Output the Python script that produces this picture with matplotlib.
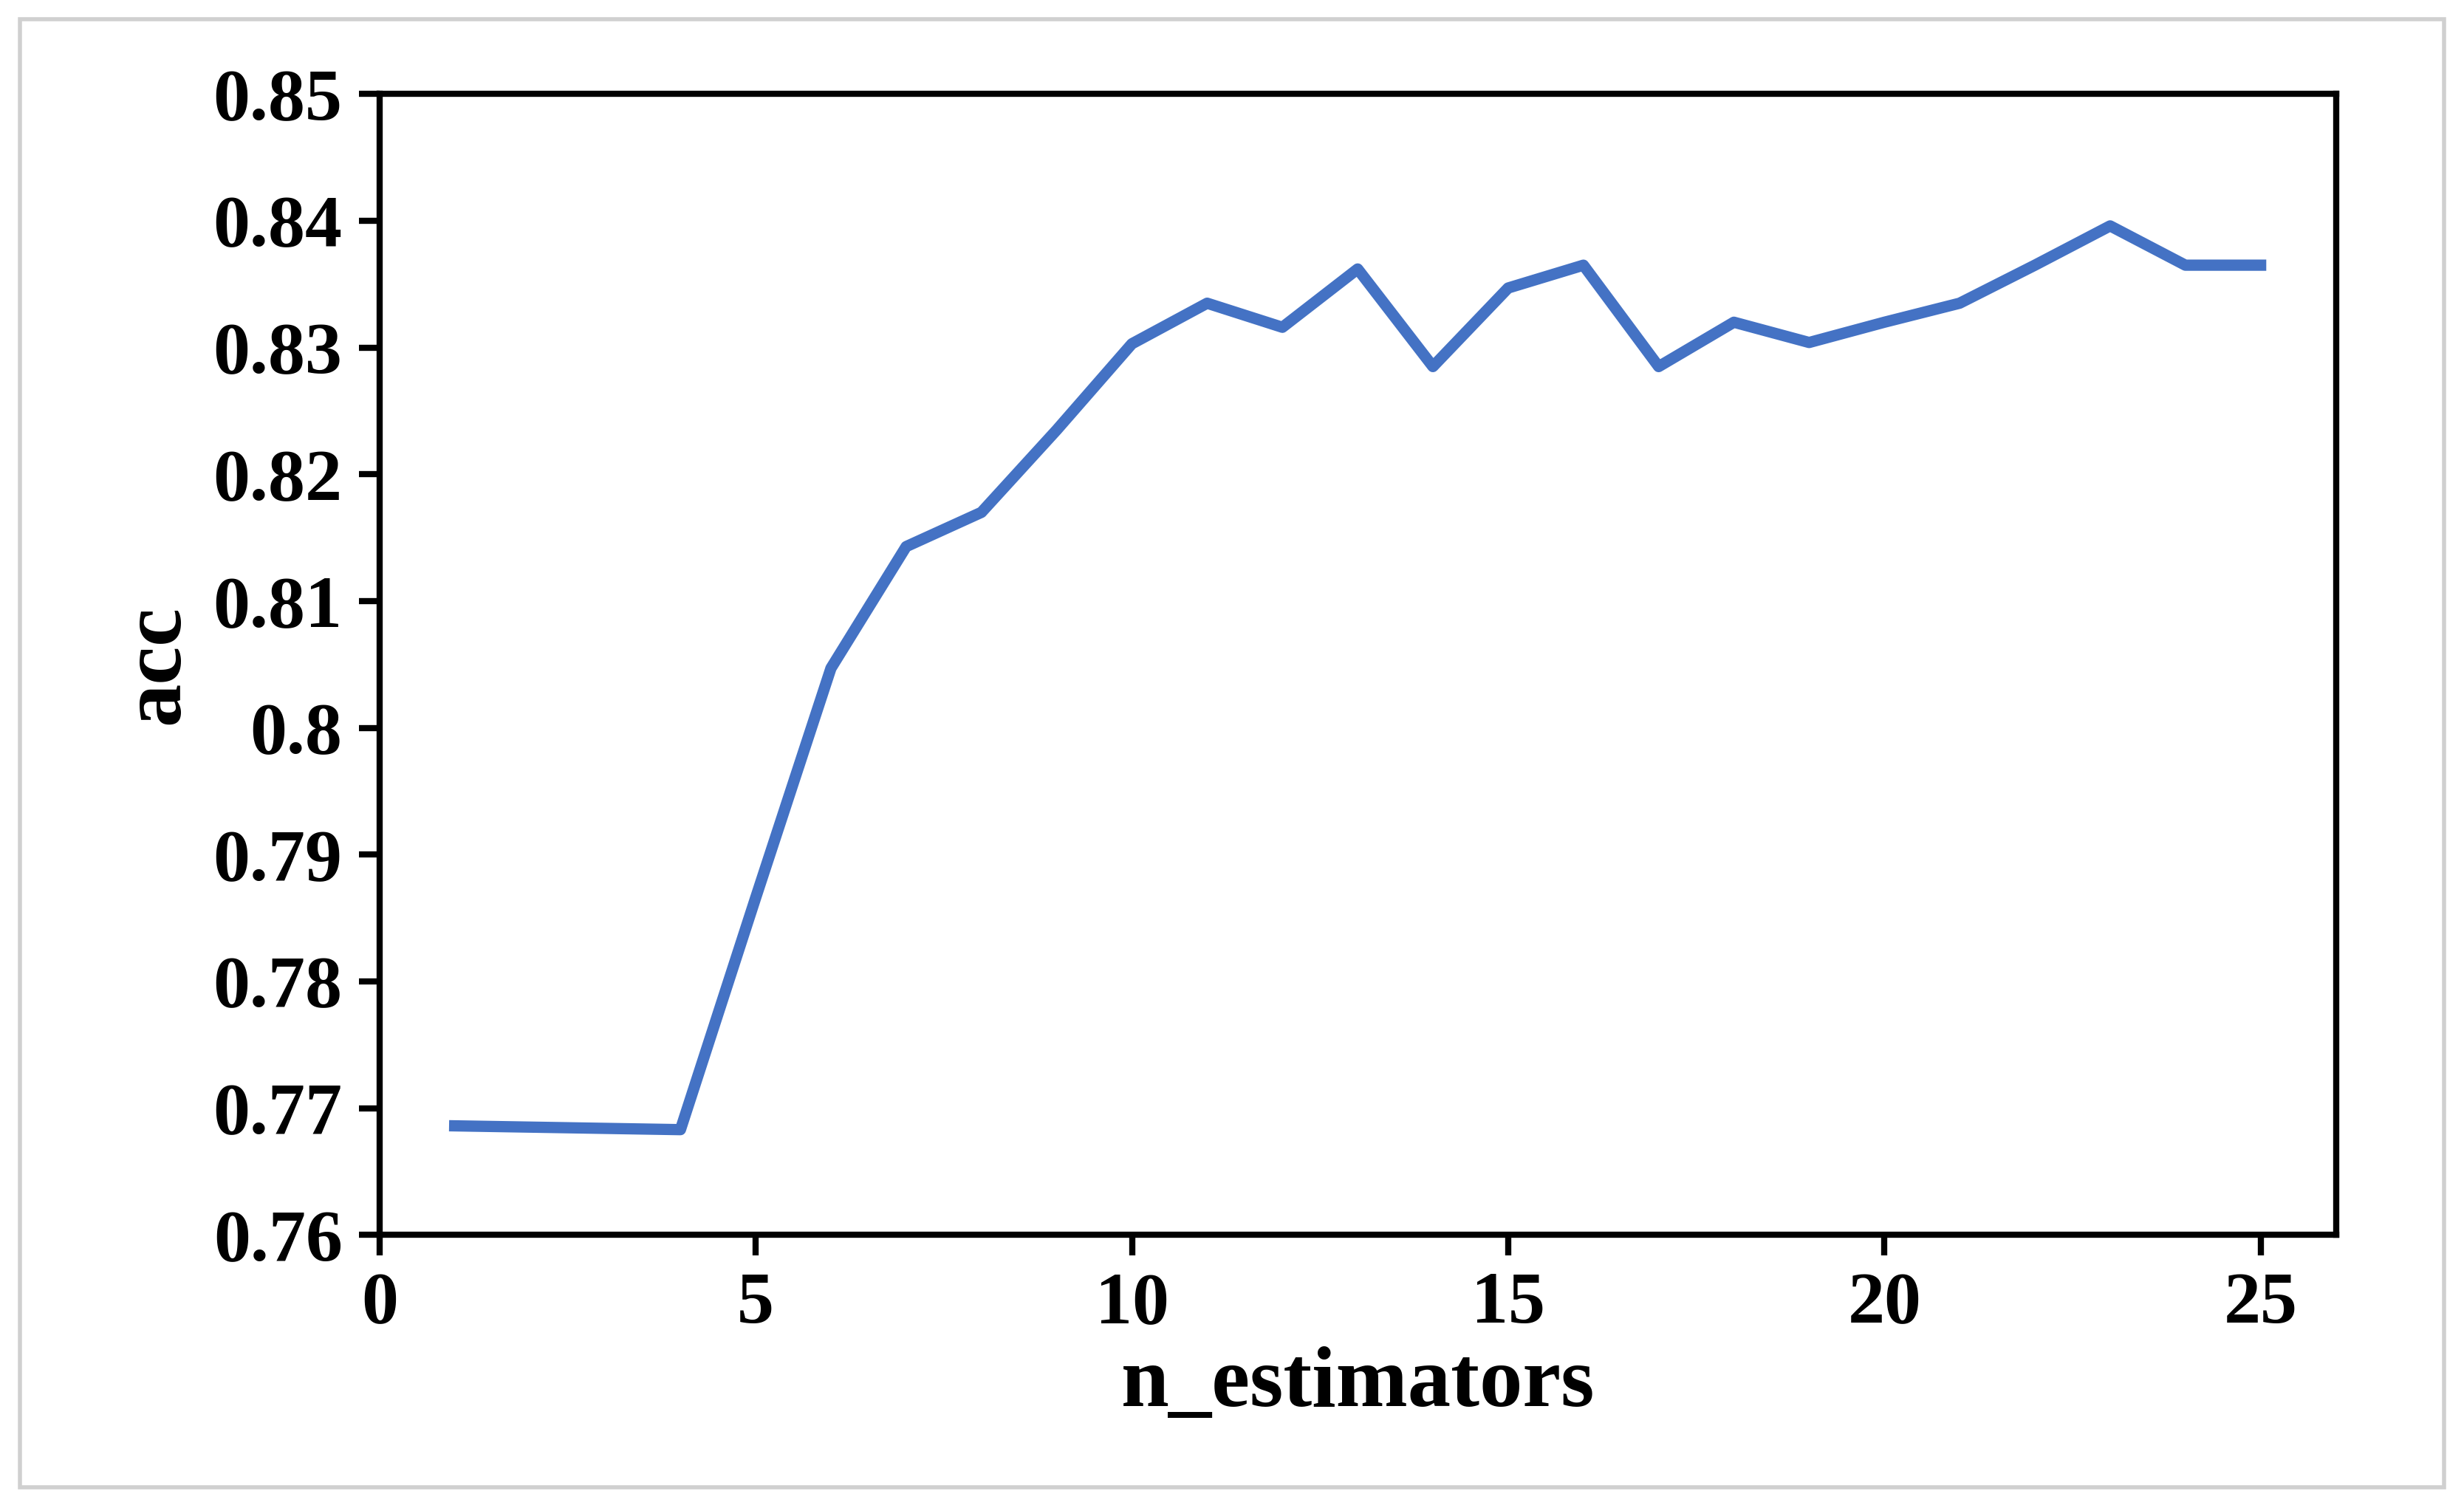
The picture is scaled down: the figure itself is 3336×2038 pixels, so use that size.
import matplotlib
matplotlib.use("Agg")
import matplotlib.pyplot as plt
from matplotlib.patches import Rectangle

n_estimators = list(range(1, 26))
acc = [0.7686, 0.7685, 0.7684, 0.7683, 0.7866, 0.8047, 0.8143, 0.8170, 0.8235, 0.8303,
       0.8335, 0.8316, 0.8362, 0.8285, 0.8347, 0.8365, 0.8285, 0.8320, 0.8304, 0.8320,
       0.8335, 0.8365, 0.8396, 0.8365, 0.8365]
xticks = [0, 5, 10, 15, 20, 25]
yticks = [0.76, 0.77, 0.78, 0.79, 0.80, 0.81, 0.82, 0.83, 0.84, 0.85]
ytick_labels = ["0.76", "0.77", "0.78", "0.79", "0.8", "0.81", "0.82", "0.83", "0.84", "0.85"]

plt.rcParams['font.family'] = ['Liberation Serif', 'DejaVu Serif']
plt.rcParams['font.weight'] = 'bold'

fig = plt.figure(figsize=(16.68, 10.19), dpi=200)
fig.patches.append(Rectangle((0.008, 0.012), 0.984, 0.975, transform=fig.transFigure,
                             fill=False, edgecolor='#d0d0d0', linewidth=2))
ax = fig.add_axes([0.154, 0.1795, 0.794, 0.758])
ax.plot(n_estimators, acc, color='#4472C4', linewidth=5.5)
ax.set_xlim(0, 26)
ax.set_ylim(0.76, 0.85)
ax.set_xticks(xticks)
ax.set_yticks(yticks)
ax.set_yticklabels(ytick_labels)
for s in ax.spines.values():
    s.set_linewidth(3)
    s.set_color('black')
ax.tick_params(direction='out', length=10, width=3, labelsize=36, pad=8)
for lab in ax.get_xticklabels() + ax.get_yticklabels():
    lab.set_fontweight('bold')
ax.set_xlabel('n_estimators', fontsize=42, fontweight='bold', labelpad=4)
ax.set_ylabel('acc', fontsize=42, fontweight='bold', labelpad=8)
fig.savefig('out.png', dpi=200)
